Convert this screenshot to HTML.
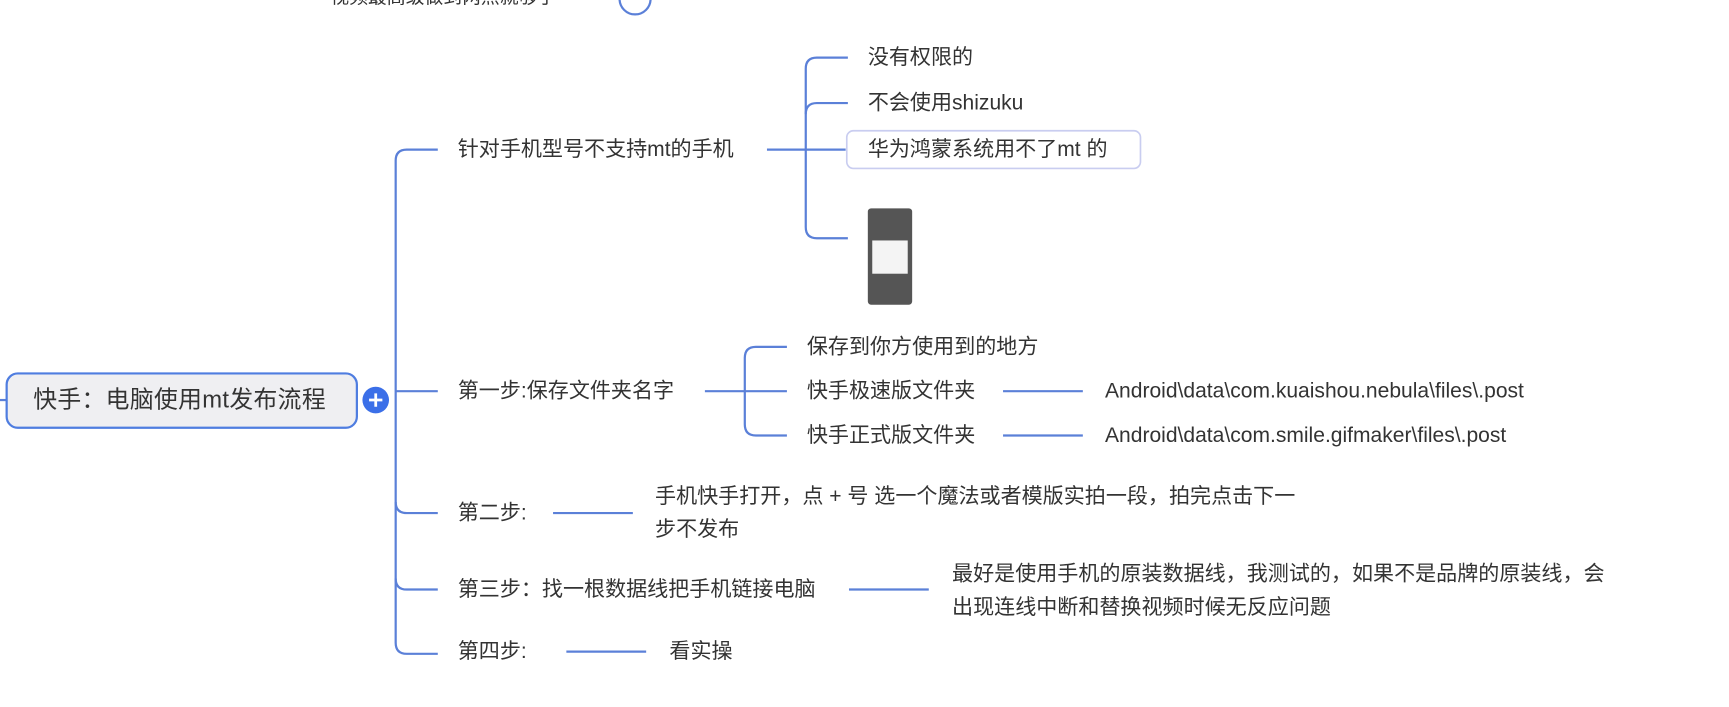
<!DOCTYPE html>
<html><head><meta charset="utf-8"><style>
html,body{margin:0;padding:0;background:#fff;width:1729px;height:707px;overflow:hidden}
svg{display:block}
text{font-family:"Liberation Sans","Noto Sans CJK SC",sans-serif;fill:#333;font-size:19px;dominant-baseline:central}
</style></head><body>
<svg width="1729" height="707" viewBox="0 0 1560 638" preserveAspectRatio="none">
<g fill="none" stroke="#5b80d8" stroke-width="2">
<path d="M250 -1 H282"/>
<circle cx="573" cy="-1" r="14"/>
<path d="M0 361 H6"/>
<path d="M395 135 H367 Q357 135 357 145 V580 Q357 590 367 590 H395"/>
<path d="M357 353 H395"/>
<path d="M357 453 Q357 463 367 463 H395"/>
<path d="M357 522 Q357 532 367 532 H395"/>
<path d="M692 135 H727"/>
<path d="M765 52 H737 Q727 52 727 62 V205 Q727 215 737 215 H765"/>
<path d="M727 103 Q727 93 737 93 H765"/>
<path d="M727 135 H763"/>
<path d="M636 353 H710"/>
<path d="M710 313 H682 Q672 313 672 323 V383 Q672 393 682 393 H710"/>
<path d="M905 353 H977"/>
<path d="M905 393 H977"/>
<path d="M499 463 H571"/>
<path d="M766 532 H838"/>
<path d="M511 588 H583"/>
</g>
<text x="298" y="-3" style="font-size:17px">视频最高级做到两点就够了</text>
<rect x="6" y="337" width="316" height="49" rx="10" fill="#efeff2" stroke="#4f7de0" stroke-width="2"/>
<text x="30" y="361" style="font-size:21.5px;letter-spacing:0.3px">快手：电脑使用mt发布流程</text>
<circle cx="339" cy="361" r="12" fill="#3b6fe8"/>
<path d="M333 361 H345 M339 355 V367" stroke="#fff" stroke-width="2.5"/>
<text x="413" y="135">针对手机型号不支持mt的手机</text>
<text x="413" y="353">第一步:保存文件夹名字</text>
<text x="413" y="463">第二步:</text>
<text x="413" y="532">第三步：找一根数据线把手机链接电脑</text>
<text x="413" y="588">第四步:</text>
<text x="783" y="52">没有权限的</text>
<text x="783" y="93">不会使用shizuku</text>
<rect x="764" y="118" width="265" height="34" rx="6" fill="#fff" stroke="#c9cdf0" stroke-width="1.5"/>
<text x="783" y="135">华为鸿蒙系统用不了mt 的</text>
<rect x="783" y="188" width="40" height="87" rx="3" fill="#555"/>
<rect x="787" y="217" width="32" height="30" fill="#f4f4f4"/>
<text x="728" y="313">保存到你方使用到的地方</text>
<text x="728" y="353">快手极速版文件夹</text>
<text x="728" y="393">快手正式版文件夹</text>
<text x="997" y="353">Android\data\com.kuaishou.nebula\files\.post</text>
<text x="997" y="393">Android\data\com.smile.gifmaker\files\.post</text>
<text x="591" y="448">手机快手打开，点 + 号 选一个魔法或者模版实拍一段，拍完点击下一</text>
<text x="591" y="478">步不发布</text>
<text x="859" y="518">最好是使用手机的原装数据线，我测试的，如果不是品牌的原装线，会</text>
<text x="859" y="548">出现连线中断和替换视频时候无反应问题</text>
<text x="604" y="588">看实操</text>
</svg>
</body></html>
